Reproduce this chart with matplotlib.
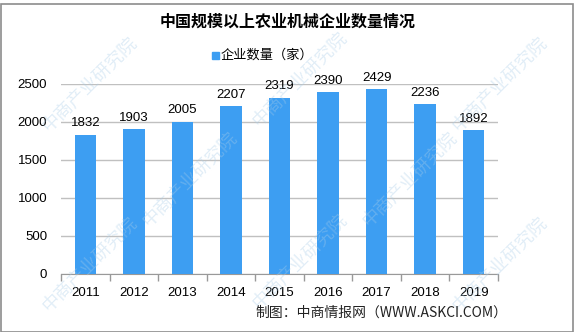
import numpy as np
import matplotlib.pyplot as plt
from matplotlib.patches import Rectangle

plt.rcParams['font.family'] = ['Noto Sans CJK SC', 'DejaVu Sans']

years = ['2011', '2012', '2013', '2014', '2015', '2016', '2017', '2018', '2019']
counts = [1832, 1903, 2005, 2207, 2319, 2390, 2429, 2236, 1892]

BAR = '#3d9ef2'
W, H = 575, 332

fig = plt.figure(figsize=(W / 100, H / 100), dpi=100)
ax = fig.add_axes([61 / W, (H - 274) / H, (498 - 61) / W, (274 - 84) / H])

x = np.arange(len(years))
bars = ax.bar(x, counts, width=0.44, color=BAR, zorder=3)
for xi, v in zip(x, counts):
    ax.text(xi, v + 70, str(v), ha='center', va='bottom', fontsize=9.5,
            family='Liberation Sans', zorder=4)

ax.set_xlim(-0.5, len(years) - 0.5)
ax.set_ylim(0, 2500)
ax.set_yticks(np.arange(0, 2501, 500))
ax.yaxis.grid(True, color='#c0c0c0', linewidth=1, zorder=0)
ax.tick_params(axis='y', length=0, pad=10, labelsize=9.5)
for lab in ax.get_yticklabels():
    lab.set_family('Liberation Sans')

# 年份标签放在类别中间，刻度线放在类别边界
ax.set_xticks(x)
ax.set_xticklabels(years, fontsize=9.5, family='Liberation Sans')
ax.set_xticks(np.arange(-0.5, len(years)), minor=True)
ax.tick_params(axis='x', which='major', length=0, pad=9)
ax.tick_params(axis='x', which='minor', length=5, color='#999999', width=1)

for s in ['top', 'right', 'left']:
    ax.spines[s].set_visible(False)
ax.spines['bottom'].set_color('#999999')

fig.text(0.5, 1 - 22 / H, '中国规模以上农业机械企业数量情况', ha='center', va='center',
         fontsize=11.5, fontweight='bold')

# 图例
fig.patches.append(Rectangle((212 / W, 1 - 59 / H), 7 / W, 7 / H, color=BAR,
                             transform=fig.transFigure, figure=fig))
fig.text(221 / W, 1 - 55 / H, '企业数量（家）', ha='left', va='center', fontsize=9.5)

fig.text(507 / W, 1 - 313 / H, '制图：中商情报网（WWW.ASKCI.COM）', ha='right',
         va='center', fontsize=10, color='#222222')

# 水印
for wx, wy in [(90, 85), (300, 80), (500, 85), (190, 180), (410, 180),
               (90, 265), (300, 262), (500, 265)]:
    fig.text(wx / W, 1 - wy / H, '中商产业研究院', rotation=45, ha='center',
             va='center', fontsize=13, color='#a9cde8', alpha=0.35, zorder=0)

fig.patches.append(Rectangle((0.5 / W, 0.5 / H), (W - 3) / W, (H - 4) / H,
                             fill=False, edgecolor='#8c8c8c', linewidth=1.2,
                             transform=fig.transFigure, figure=fig))

fig.savefig('out.png', dpi=100)
